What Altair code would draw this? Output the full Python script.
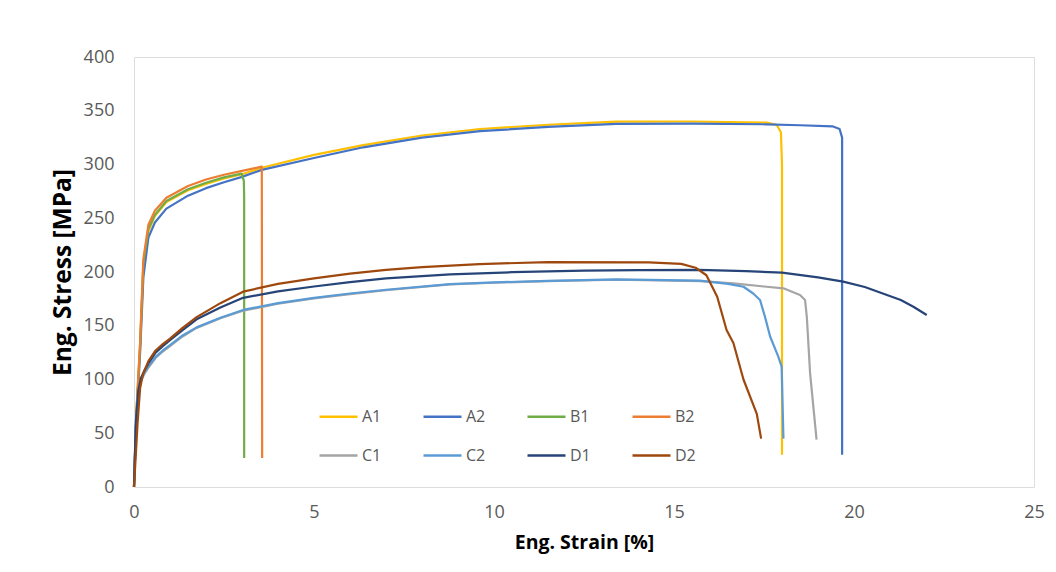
import altair as alt
import pandas as pd

# ---- data ----
series_names = ["A1", "A2", "B1", "B2", "C1", "C2", "D1", "D2"]
series_colors = ["#FFC000", "#4472C4", "#70AD47", "#ED7D31",
                 "#A5A5A5", "#5B9BD5", "#264478", "#9E480E"]

A1_strain = [0, 0.07, 0.17, 0.26, 0.4, 0.58, 0.9, 1.5, 2, 2.5, 3, 3.55, 5, 6.37, 8, 9.61, 11.5, 13.4, 15.5, 17.57, 17.85, 17.97, 18.0, 18.0]
A1_stress = [0, 69, 130, 205, 238, 252, 265, 276, 282, 287, 291, 297, 309, 318, 327, 333, 337, 339.8, 340, 339, 337, 330, 300, 30]

A2_strain = [0, 0.07, 0.17, 0.26, 0.4, 0.58, 0.9, 1.5, 2, 2.5, 3, 3.55, 5, 6.37, 8, 9.61, 11.5, 13.4, 15.5, 17.57, 18.5, 19.4, 19.6, 19.67, 19.67]
A2_stress = [0, 65, 125, 195, 232, 246, 259, 271, 278, 283.5, 288.5, 295, 306, 316, 325, 331, 335, 337.7, 338, 337.4, 336.5, 335.5, 333, 325, 30]

B1_strain = [0, 0.07, 0.17, 0.26, 0.4, 0.58, 0.9, 1.5, 2, 2.5, 2.99, 3.05, 3.06, 3.06]
B1_stress = [0, 70, 133, 208, 240, 253, 266, 277, 283, 288, 291.5, 285, 270, 27]

B2_strain = [0, 0.07, 0.17, 0.26, 0.4, 0.58, 0.9, 1.5, 2, 2.5, 3, 3.55, 3.56]
B2_stress = [0, 72, 135, 212, 244, 257, 269, 280, 286, 290.5, 294, 298, 27]

C1_strain = [0, 0.05, 0.12, 0.2, 0.3, 0.4, 0.6, 0.8, 1.0, 1.35, 1.74, 2.4, 3.03, 4, 5, 6, 7, 8.78, 10, 11.5, 13.4, 15.72, 16.65, 17.5, 18.04, 18.5, 18.64, 18.69, 18.78, 18.96]
C1_stress = [0, 55, 88, 99, 106, 111, 120, 126, 131, 140, 148, 157, 164, 170.5, 175.5, 179.5, 183, 188.5, 190, 191.5, 192.8, 191.5, 189.5, 186.5, 184.8, 178.6, 174, 158, 106, 44]

C2_strain = [0, 0.05, 0.12, 0.2, 0.3, 0.4, 0.6, 0.8, 1.0, 1.35, 1.74, 2.4, 3.03, 4, 5, 6, 7, 8.78, 10, 11.5, 13.4, 15.72, 16.5, 16.93, 17.2, 17.39, 17.53, 17.67, 17.9, 17.99, 18.04]
C2_stress = [0, 55, 88, 100, 107, 112, 121, 127, 132, 141, 148.5, 157.5, 164.7, 171, 176, 180, 183.5, 188.8, 190.3, 191.8, 193.2, 192, 189, 186.3, 180, 174, 158, 140, 121, 112, 45]

D1_strain = [0, 0.05, 0.12, 0.2, 0.3, 0.4, 0.6, 0.8, 1.0, 1.35, 1.74, 2.4, 3.03, 4, 5, 6, 7, 8.78, 10.5, 12.5, 14, 15.7, 17, 18, 19, 19.7, 20.3, 20.8, 21.3, 21.65, 22.02]
D1_stress = [0, 60, 90, 102, 109, 115, 125, 131, 136.5, 146, 156, 167, 176, 182, 186.5, 190.5, 194, 197.8, 199.8, 201.2, 201.8, 202, 200.8, 199.4, 195, 191, 186, 180, 174, 167.7, 160]

D2_strain = [0, 0.1, 0.17, 0.25, 0.4, 0.6, 0.8, 1.0, 1.35, 1.74, 2.4, 3.03, 4, 5, 6, 7, 8, 9.6, 11.5, 14.3, 15.2, 15.6, 15.9, 16.2, 16.46, 16.65, 16.93, 17.3, 17.42]
D2_stress = [0, 60, 92, 105, 117, 127, 133, 138, 148, 158, 171, 181.7, 189, 194, 198.5, 202, 204.5, 207.4, 209.2, 209, 207.5, 204, 197, 177, 146, 134, 100, 68, 45]

x_ticks = [0, 5, 10, 15, 20, 25]
y_ticks = [0, 50, 100, 150, 200, 250, 300, 350, 400]

all_strain = [A1_strain, A2_strain, B1_strain, B2_strain, C1_strain, C2_strain, D1_strain, D2_strain]
all_stress = [A1_stress, A2_stress, B1_stress, B2_stress, C1_stress, C2_stress, D1_stress, D2_stress]

rows = []
for name, xs, ys in zip(series_names, all_strain, all_stress):
    for i, (sx, sy) in enumerate(zip(xs, ys)):
        rows.append({"series": name, "strain": sx, "stress": sy, "i": i})
df = pd.DataFrame(rows)

FONT = "Open Sans"

chart = alt.Chart(df).mark_line(strokeWidth=2.2, strokeJoin="round").encode(
    x=alt.X("strain:Q",
            scale=alt.Scale(domain=[0, 25], nice=False),
            axis=alt.Axis(values=x_ticks, title="Eng. Strain [%]", grid=False,
                          ticks=False, domain=False, labelPadding=16, labelFlush=False,
                          labelFont=FONT, labelFontSize=18, labelColor="#595959",
                          titleFont=FONT, titleFontSize=19.5, titleFontWeight="bold",
                          titleColor="#000000", titlePadding=12)),
    y=alt.Y("stress:Q",
            scale=alt.Scale(domain=[0, 400], nice=False),
            axis=alt.Axis(values=y_ticks, title="Eng. Stress [MPa]", grid=False,
                          ticks=False, domain=False, labelPadding=20, labelFlush=False,
                          labelFont=FONT, labelFontSize=18, labelColor="#595959",
                          titleFont=FONT, titleFontSize=24.5, titleFontWeight="bold",
                          titleColor="#000000", titlePadding=8)),
    color=alt.Color("series:N",
                    scale=alt.Scale(domain=series_names, range=series_colors),
                    legend=alt.Legend(title=None, orient="none", legendX=184, legendY=339,
                                      direction="horizontal",
                                      columns=4, symbolType="stroke", symbolSize=1444,
                                      symbolStrokeWidth=2.5, labelFont=FONT,
                                      labelFontSize=16, labelColor="#595959",
                                      labelOffset=3, columnPadding=36, rowPadding=10,
                                      padding=0)),
    order=alt.Order("i:Q"),
    detail="series:N",
).properties(
    width=900, height=430,
    autosize=alt.AutoSizeParams(type="none"),
    padding={"left": 126, "top": 49, "right": 14, "bottom": 70},
).configure_view(
    stroke="#000000", strokeWidth=2.5
).configure(background="white")

chart.save("out.html", embed_options={"renderer": "svg", "actions": False})
